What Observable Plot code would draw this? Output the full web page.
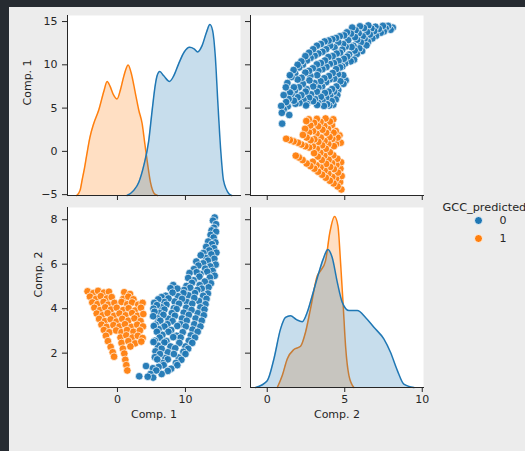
<!DOCTYPE html>
<html>
<head>
<meta charset="utf-8">
<script src="https://cdn.jsdelivr.net/npm/d3@7"></script>
<script src="https://cdn.jsdelivr.net/npm/@observablehq/plot@0.6"></script>
<style>
  html, body { margin: 0; padding: 0; }
  body { position: relative; width: 525px; height: 451px; overflow: hidden; background: #262b31; }
  #sheet { position: absolute; left: 9px; top: 7px; right: 0; bottom: 0; background: #ececec; }
</style>
</head>
<body>
<div id="sheet"></div>
<script>
// Pair plot of the two principal components, coloured by predicted GCC class.

const classLabels = ["0", "1"];
const classColors = ["#1f77b4", "#ff7f0e"];
const legendTitle = "GCC_predicted";
const comp1Name = "Comp. 1";
const comp2Name = "Comp. 2";

// Observations of class 0: [Comp. 1, Comp. 2]
const class0Points = [
  [14.3,8.1],
  [14.05,7.96],[14.5,7.8],
  [14.2,7.64],[13.85,7.52],
  [14.5,7.46],[13.7,7.32],[14.15,7.2],
  [13.35,7.02],[14.4,6.98],[13.9,6.9],[13.05,6.78],
  [14.2,6.72],[13.5,6.62],[12.65,6.5],[14.55,6.52],
  [13.8,6.44],[13.0,6.28],[12.25,6.4],[14.25,6.24],
  [13.3,6.16],[12.6,6.04],[11.6,6.12],[14.45,5.98],
  [13.65,5.9],[12.9,5.8],[11.9,5.94],[11.25,5.78],[14.0,5.7],
  [13.2,5.66],[12.2,5.56],[11.65,5.64],[10.6,5.6],[14.3,5.48],
  [13.6,5.4],[12.05,5.44],[11.2,5.28],[10.4,5.38],[13.75,5.14],
  [12.85,5.22],[12.1,5.06],[10.95,5.16],[10.15,5.02],[8.2,5.06],
  [13.4,4.96],[12.4,4.9],[11.75,4.84],[10.7,4.94],[9.8,4.84],[8.8,4.9],[7.8,4.92],
  [13.3,4.68],[12.6,4.58],[11.4,4.7],[10.45,4.6],[9.7,4.7],[8.9,4.56],[8.1,4.72],[7.1,4.58],[6.5,4.52],
  [13.1,4.44],[12.0,4.34],[11.3,4.48],[10.2,4.3],[9.5,4.44],[8.4,4.32],[7.5,4.46],[6.9,4.3],[6.0,4.42],[5.4,4.26],
  [12.95,4.2],[12.2,4.06],[11.0,4.22],[10.1,4.04],[9.05,4.22],[8.3,4.02],[7.2,4.18],[6.45,4.06],[5.8,4.16],[5.3,4.0],
  [12.8,3.96],[11.8,3.8],[10.9,3.94],[9.75,3.82],[8.7,3.98],[8.0,3.8],[6.9,3.96],[6.2,3.8],[5.45,3.86],
  [12.7,3.7],[11.5,3.56],[10.5,3.72],[9.5,3.56],[8.45,3.68],[7.5,3.54],[6.75,3.72],[5.9,3.56],[5.25,3.66],
  [12.4,3.46],[11.3,3.3],[10.2,3.46],[9.3,3.3],[8.1,3.44],[7.35,3.3],[6.3,3.46],[5.6,3.28],
  [12.2,3.2],[11.05,3.06],[10.05,3.2],[8.8,3.22],[7.9,3.04],[6.9,3.2],[6.05,3.08],[5.35,3.22],
  [11.8,2.96],[10.8,2.8],[9.6,2.94],[8.7,2.78],[7.5,2.96],[6.6,2.82],[5.8,2.96],
  [11.4,2.7],[10.5,2.56],[9.3,2.7],[8.2,2.72],[7.2,2.54],[6.2,2.7],[5.5,2.56],
  [11.0,2.46],[10.0,2.3],[9.1,2.46],[7.8,2.3],[6.9,2.48],[5.95,2.34],[5.3,2.5],
  [10.4,2.2],[9.7,2.06],[8.5,2.22],[7.4,2.04],[6.5,2.2],[5.6,2.08],
  [10.0,1.96],[9.0,1.8],[8.3,1.96],[7.0,1.78],[6.25,1.96],[5.5,1.82],
  [9.4,1.7],[8.6,1.56],[7.4,1.72],[6.6,1.56],[5.85,1.72],
  [8.8,1.46],[7.9,1.3],[6.8,1.46],[6.05,1.38],[5.2,1.32],[4.2,1.42],
  [7.4,1.2],[6.5,1.06],[5.7,1.22],[4.85,1.06],
  [5.25,0.9],[4.45,0.94],[3.2,0.96]
];

// Observations of class 1: [Comp. 1, Comp. 2]
const class1Points = [
  [-4.4,4.78],[-3.55,4.7],[-2.85,4.8],[-2.0,4.72],[-1.25,4.76],[1.0,4.74],[1.85,4.66],
  [-4.05,4.54],[-3.15,4.44],[-2.45,4.56],[-1.55,4.46],[-0.85,4.52],[0.85,4.44],[1.6,4.54],[2.35,4.42],
  [-3.7,4.28],[-2.95,4.2],[-2.05,4.3],[-1.35,4.18],[-0.45,4.26],[0.6,4.3],[1.45,4.2],[2.15,4.28],[3.05,4.18],[3.7,4.26],
  [-3.4,4.04],[-2.55,3.94],[-1.8,4.06],[-0.95,3.96],[-0.1,4.04],[0.85,3.94],[1.65,4.02],[2.6,3.92],[3.45,4.04],
  [-3.05,3.78],[-2.2,3.7],[-1.45,3.8],[-0.5,3.68],[0.3,3.78],[1.2,3.7],[2.15,3.8],[2.95,3.68],[3.8,3.76],
  [-2.7,3.54],[-1.85,3.44],[-1.0,3.52],[-0.15,3.42],[0.7,3.54],[1.6,3.46],[2.5,3.56],[3.4,3.44],
  [-2.35,3.28],[-1.6,3.18],[-0.6,3.26],[0.3,3.2],[1.1,3.3],[2.05,3.18],[2.9,3.28],[3.75,3.2],
  [-2.0,3.04],[-1.2,2.94],[-0.2,3.02],[0.6,2.94],[1.4,3.04],[2.35,2.96],[3.3,3.02],
  [-1.7,2.78],[0.45,2.7],[1.3,2.8],[2.2,2.7],[3.0,2.78],[3.7,2.68],
  [-1.4,2.54],[0.6,2.46],[1.6,2.54],[2.6,2.44],[3.5,2.52],
  [-1.0,2.28],[0.8,2.2],[1.9,2.3],
  [-0.7,2.04],[1.0,1.98],
  [-0.5,1.84],
  [1.15,1.7],
  [1.3,1.46],
  [1.45,1.22]
];

// Kernel density estimates on the diagonal: [value, relative density]
const kdeComp1Class0 = [
  [1.4,0],[2.4,0.03],[3.14,0.078],[3.87,0.175],[4.6,0.32],[5.1,0.497],[5.59,0.653],[5.83,0.70],
  [6.22,0.725],[6.81,0.70],[7.65,0.667],[8.28,0.70],[9.0,0.77],[9.8,0.838],[10.6,0.867],[11.27,0.858],
  [11.8,0.84],[12.45,0.877],[13.1,0.955],[13.6,1.0],[14.0,0.965],[14.4,0.81],[14.75,0.556],[15.2,0.26],
  [15.6,0.088],[16.4,0.01],[16.8,0]
];
const kdeComp1Class1 = [
  [-6.0,0],[-5.5,0.03],[-5.2,0.09],[-4.85,0.16],[-4.55,0.23],[-4.05,0.34],[-3.5,0.42],[-2.75,0.50],
  [-2.0,0.61],[-1.52,0.667],[-1.1,0.64],[-0.6,0.59],[-0.05,0.565],[0.45,0.62],[0.95,0.70],[1.57,0.764],
  [2.0,0.72],[2.65,0.595],[3.13,0.50],[3.63,0.42],[3.97,0.32],[4.36,0.205],[4.85,0.078],[5.44,0.01],[5.9,0]
];
const kdeComp2Class0 = [
  [-0.75,0],[0,0.04],[0.43,0.167],[0.86,0.343],[1.18,0.41],[1.5,0.42],[1.89,0.397],[2.26,0.385],
  [2.58,0.44],[2.9,0.537],[3.33,0.673],[3.61,0.751],[3.91,0.807],[4.19,0.76],[4.52,0.615],[4.84,0.498],
  [5.27,0.45],[5.81,0.45],[6.34,0.41],[6.88,0.352],[7.52,0.284],[7.95,0.206],[8.39,0.1],[8.81,0.02],[9.46,0]
];
const kdeComp2Class1 = [
  [0.65,0],[0.97,0.07],[1.29,0.167],[1.72,0.222],[2.15,0.241],[2.47,0.323],[2.79,0.46],[3.23,0.654],
  [3.44,0.683],[3.76,0.741],[4.04,0.907],[4.34,1.0],[4.56,0.946],[4.73,0.731],[4.9,0.479],[5.05,0.245],
  [5.27,0.07],[5.59,0]
];

// Tick values
const comp1RowTicks = [-5, 0, 5, 10, 15];
const comp2RowTicks = [2, 4, 6, 8];
const comp1ColTicks = [0, 10];
const comp2ColTicks = [0, 5, 10];

// Scale domains shared along rows and columns
const comp1RowDomain = [-5.1, 15.7];
const comp2RowDomain = [0.455, 8.55];
const comp1ColDomain = [-7.35, 18.1];
const comp2ColDomain = [-1.08, 10.08];
const densityDomain = [0, 1.053];

const points = [
  ...class0Points.map(([c1, c2]) => ({c1, c2, cls: classLabels[0]})),
  ...class1Points.map(([c1, c2]) => ({c1, c2, cls: classLabels[1]}))
];

const FONT = "'DejaVu Sans', sans-serif";
const INK = "#262626";
const PW = 173, PH = 180;
const M = {top: 6, right: 6, bottom: 44, left: 64};
const COL_LEFT = [67, 250];
const ROW_TOP = [15, 207];

function place(svg, left, top, m) {
  svg.style.position = "absolute";
  svg.style.left = `${left - m.left}px`;
  svg.style.top = `${top - m.top}px`;
  document.body.appendChild(svg);
}

function panel(col, row, options) {
  const svg = Plot.plot({
    width: PW + M.left + M.right,
    height: PH + M.top + M.bottom,
    marginTop: M.top, marginRight: M.right, marginBottom: M.bottom, marginLeft: M.left,
    style: {background: "none", color: INK, fontFamily: FONT, fontSize: "11px", overflow: "visible"},
    color: {domain: classLabels, range: classColors},
    ...options
  });
  place(svg, COL_LEFT[col], ROW_TOP[row], M);
}

const blank = () => "";
const xAxis = (ticks, labeled) => Plot.axisX({ticks, tickSize: 5, tickPadding: 3, label: null, fontSize: 11, ...(labeled ? {} : {tickFormat: blank})});
const yAxis = (ticks, labeled) => Plot.axisY({ticks, tickSize: 5, tickPadding: 5, label: null, fontSize: 11, ...(labeled ? {} : {tickFormat: blank})});
const spines = () => [
  Plot.frame({anchor: "left", stroke: INK, strokeWidth: 1}),
  Plot.frame({anchor: "bottom", stroke: INK, strokeWidth: 1})
];
const yTitle = (t, dx) => Plot.text([t], {text: d => d, frameAnchor: "left", dx, rotate: -90, fontSize: 11, fill: INK});
const xTitle = (t, dy) => Plot.text([t], {text: d => d, frameAnchor: "bottom", dy, fontSize: 11, fill: INK});

function densityMarks(data, color) {
  return [
    Plot.areaY(data, {x: d => d[0], y: d => d[1], fill: color, fillOpacity: 0.25, curve: "monotone-x"}),
    Plot.lineY(data, {x: d => d[0], y: d => d[1], stroke: color, strokeWidth: 1.5, curve: "monotone-x"})
  ];
}

const dotStyle = {r: 3.8, stroke: "white", strokeWidth: 0.8, strokeOpacity: 0.85, fillOpacity: 0.95};

// Top left: density of Comp. 1
panel(0, 0, {
  x: {domain: comp1ColDomain},
  y: {domain: densityDomain, axis: null},
  marks: [
    Plot.frame({fill: "white", stroke: null}),
    ...densityMarks(kdeComp1Class1, classColors[1]),
    ...densityMarks(kdeComp1Class0, classColors[0]),
    xAxis(comp1ColTicks, false),
    ...spines()
  ]
});
panel(0, 0, {
  y: {domain: comp1RowDomain},
  marks: [yAxis(comp1RowTicks, true), yTitle(comp1Name, -40)]
});

// Top right: Comp. 1 against Comp. 2
panel(1, 0, {
  x: {domain: comp2ColDomain},
  y: {domain: comp1RowDomain},
  marks: [
    Plot.frame({fill: "white", stroke: null}),
    Plot.dot(points, {x: "c2", y: "c1", fill: "cls", ...dotStyle}),
    xAxis(comp2ColTicks, false),
    yAxis(comp1RowTicks, false),
    ...spines()
  ]
});

// Bottom left: Comp. 2 against Comp. 1
panel(0, 1, {
  x: {domain: comp1ColDomain},
  y: {domain: comp2RowDomain},
  marks: [
    Plot.frame({fill: "white", stroke: null}),
    Plot.dot(points, {x: "c1", y: "c2", fill: "cls", ...dotStyle}),
    xAxis(comp1ColTicks, true),
    yAxis(comp2RowTicks, true),
    ...spines(),
    xTitle(comp1Name, 30),
    yTitle(comp2Name, -29)
  ]
});

// Bottom right: density of Comp. 2
panel(1, 1, {
  x: {domain: comp2ColDomain},
  y: {domain: densityDomain, axis: null},
  marks: [
    Plot.frame({fill: "white", stroke: null}),
    ...densityMarks(kdeComp2Class1, classColors[1]),
    ...densityMarks(kdeComp2Class0, classColors[0]),
    xAxis(comp2ColTicks, true),
    ...spines(),
    xTitle(comp2Name, 30)
  ]
});
panel(1, 1, {
  y: {domain: comp2RowDomain},
  marks: [yAxis(comp2RowTicks, false)]
});

// Legend
const LM = {top: 0, left: 0};
const legend = Plot.plot({
  width: 110, height: 60, margin: 0,
  style: {background: "none", color: INK, fontFamily: FONT, fontSize: "11px", overflow: "visible"},
  color: {domain: classLabels, range: classColors},
  y: {type: "point", domain: classLabels, range: [30, 48.5], padding: 0, axis: null},
  marks: [
    Plot.text([legendTitle], {text: d => d, frameAnchor: "top-left", dy: 12, fontSize: 11.3, fill: INK, textAnchor: "start"}),
    Plot.dot(classLabels, {y: d => d, fill: d => d, frameAnchor: "left", dx: 36, r: 4, stroke: "white", strokeWidth: 0.8}),
    Plot.text(classLabels, {y: d => d, text: d => d, frameAnchor: "left", dx: 57, fontSize: 11, fill: INK, textAnchor: "start"})
  ]
});
place(legend, 441.5, 190, LM);
</script>
</body>
</html>
